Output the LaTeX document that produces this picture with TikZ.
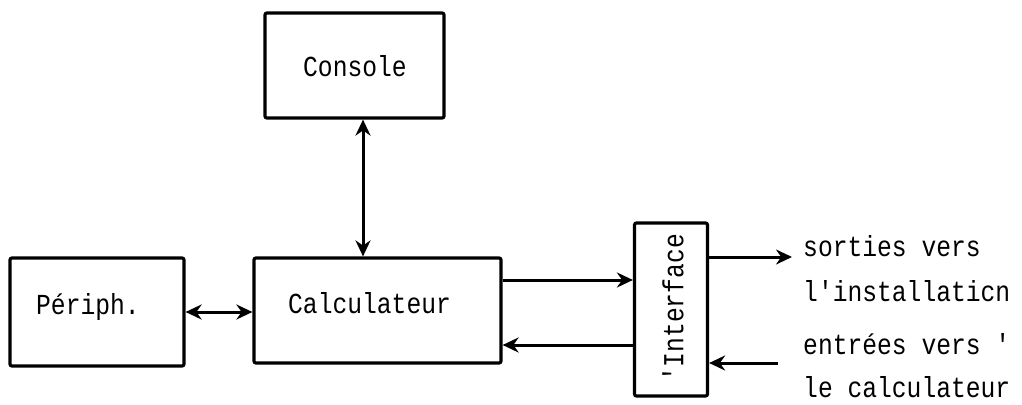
\documentclass[tikz,border=0pt]{standalone}
\usepackage{fontspec}
\newfontfamily\tw[FakeStretch=0.85]{Liberation Mono}
\usetikzlibrary{arrows.meta}
\begin{document}
\begin{tikzpicture}[x=1pt,y=-1pt,
  box/.style={draw,line width=3.2pt,rounded corners=2pt,inner sep=0pt},
  lbl/.style={font=\tw\fontsize{29}{32}\selectfont,inner sep=0pt,anchor=base west},
  conn/.style={line width=3pt},
  tip/.style={-{Stealth[length=16pt,width=15pt]}},
  both/.style={{Stealth[length=16pt,width=15pt]}-{Stealth[length=16pt,width=15pt]}}]
\useasboundingbox (0,0) rectangle (1022,404);
% boxes
\node[box,minimum width=179pt,minimum height=105pt] (cons) at (354.5,65.5) {};
\node[box,minimum width=174pt,minimum height=108pt] (per) at (97,312) {};
\node[box,minimum width=247pt,minimum height=105pt] (calc) at (377.5,310.5) {};
\node[box,minimum width=73pt,minimum height=173pt] (int) at (671,309.5) {};
% texts
\node[lbl] (tcons) at (303,77) {Console};
\node[lbl] (tper) at (36,314) {Périph.};
\node[lbl] (tcalc) at (288,313) {Calculateur};
\node[font=\tw\fontsize{29}{32}\selectfont,inner sep=0pt,rotate=90] (tint) at (673,308) {'Interface};
\node[lbl] (s1) at (803,256) {sorties vers};
\node[lbl] (s2) at (803,301) {l'installaticn};
\node[lbl] (s3) at (803,354) {entrées vers '};
\node[lbl] (s4) at (803,397) {le calculateur};
% connectors
\draw[conn,both] ([xshift=8.5pt]cons.south) -- ([xshift=8.5pt]cons.south |- calc.north);
\draw[conn,both] (per.east) -- (per.east -| calc.west);
\draw[conn,tip] ([yshift=30.5pt]calc.east) -- ([yshift=30.5pt]calc.east -| int.west);
\draw[conn,tip] ([yshift=-35.5pt]int.west) -- ([yshift=-35.5pt]int.west -| calc.east);
\coordinate (outend) at (792,257);
\coordinate (instart) at (778,363);
\draw[conn,tip] (int.east |- outend) -- (outend);
\draw[conn,tip] (instart) -- (instart -| int.east);
\end{tikzpicture}
\end{document}
